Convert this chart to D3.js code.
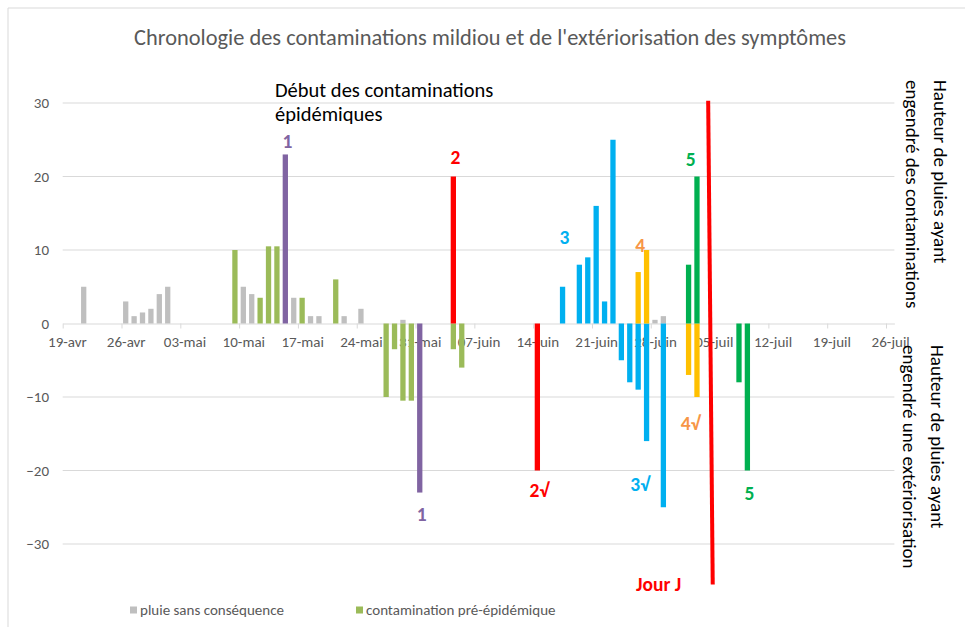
<!DOCTYPE html>
<meta charset="utf-8">
<style>
body { margin: 0; background: #fff; }
svg text { font-family: Carlito, Lato, sans-serif; }
.axis text { fill: #595959; font-size: 15px; }
.axis line, .axis path { stroke: #d9d9d9; }
.grid line { stroke: #d9d9d9; }
</style>
<svg width="965" height="627"></svg>
<script src="https://d3js.org/d3.v7.min.js"></script>
<script>

// dates de l'axe (une graduation par semaine)
var tickDates = ["2021-04-19", "2021-04-26", "2021-05-03", "2021-05-10", "2021-05-17", "2021-05-24", "2021-05-31",
  "2021-06-07", "2021-06-14", "2021-06-21", "2021-06-28", "2021-07-05", "2021-07-12", "2021-07-19", "2021-07-26"];
var tickLabels = ["19-avr", "26-avr", "03-mai", "10-mai", "17-mai", "24-mai", "31-mai",
  "07-juin", "14-juin", "21-juin", "28-juin", "05-juil", "12-juil", "19-juil", "26-juil"];
var yTicks = [-30, -20, -10, 0, 10, 20, 30];

// hauteur de pluie (mm), positif = contamination, négatif = extériorisation
var pluieSansConsequence = [["2021-04-21", 5], ["2021-04-26", 3], ["2021-04-27", 1], ["2021-04-28", 1.5],
  ["2021-04-29", 2], ["2021-04-30", 4], ["2021-05-01", 5], ["2021-05-10", 5], ["2021-05-11", 4],
  ["2021-05-16", 3.5], ["2021-05-18", 1], ["2021-05-19", 1], ["2021-05-22", 1], ["2021-05-24", 2],
  ["2021-05-29", 0.5], ["2021-06-28", 0.5], ["2021-06-29", 1]];
var preEpidemique = [["2021-05-09", 10], ["2021-05-12", 3.5], ["2021-05-13", 10.5], ["2021-05-14", 10.5],
  ["2021-05-17", 3.5], ["2021-05-21", 6], ["2021-05-27", -10], ["2021-05-28", -3.5], ["2021-05-29", -10.5],
  ["2021-05-30", -10.5], ["2021-06-04", -3.5], ["2021-06-05", -6]];
var contamination1 = [["2021-05-15", 23], ["2021-05-31", -23]];
var contamination2 = [["2021-06-04", 20], ["2021-06-14", -20]];
var contamination3 = [["2021-06-17", 5], ["2021-06-19", 8], ["2021-06-20", 9], ["2021-06-21", 16],
  ["2021-06-22", 3], ["2021-06-23", 25], ["2021-06-24", -5], ["2021-06-25", -8], ["2021-06-26", -9],
  ["2021-06-27", -16], ["2021-06-29", -25]];
var contamination4 = [["2021-06-26", 7], ["2021-06-27", 10], ["2021-07-02", -7], ["2021-07-03", -10]];
var contamination5 = [["2021-07-02", 8], ["2021-07-03", 20], ["2021-07-08", -8], ["2021-07-09", -20]];

var seriesNames = ["pluie sans conséquence", "contamination pré-épidémique", "contamination 1",
  "contamination 2", "contamination 3", "contamination 4", "contamination 5"];
var seriesValues = [pluieSansConsequence, preEpidemique, contamination1, contamination2,
  contamination3, contamination4, contamination5];

// étiquettes : [date, valeur, texte, série]
var labels = [["2021-05-15", 24.8, "1", 2], ["2021-05-31", -25.9, "1", 2],
  ["2021-06-04", 22.6, "2", 3], ["2021-06-14", -22.7, "2\u221a", 3],
  ["2021-06-17", 11.7, "3", 4], ["2021-06-26", -21.9, "3\u221a", 4],
  ["2021-06-26", 10.6, "4", 5], ["2021-07-02", -13.5, "4\u221a", 5],
  ["2021-07-02", 22.4, "5", 6], ["2021-07-09", -23.1, "5", 6]];
var jourJ = [["2021-07-04T20:00", 30.3], ["2021-07-05T09:00", -35.5]];

var svg = d3.select("svg");
var parse = d3.utcParse("%Y-%m-%d");
var parseH = d3.utcParse("%Y-%m-%dT%H:%M");

var color = d3.scaleOrdinal()
    .domain(seriesNames)
    .range(["#bfbfbf", "#9bbb59", "#8064a2", "#ff0000", "#00b0f0", "#ffc000", "#00b050"]);
var labelColor = ["#bfbfbf", "#9bbb59", "#8064a2", "#ff0000", "#00b0f0", "#f79646", "#00b050"];

var x0 = parse("2021-04-19"), x1 = parse("2021-07-27");
var xt = d3.scaleUtc().domain([x0, x1]).range([62.7, 894.4]);
var days = d3.utcDay.range(x0, x1).map(d3.utcFormat("%Y-%m-%d"));
var x = d3.scaleBand().domain(days).range([62.7, 894.4]).paddingInner(0.37).paddingOuter(0.185);
var y = d3.scaleLinear().domain([-30, 30]).range([544, 103]);

// cadre
svg.append("path").attr("d", "M8,627V8H965").attr("fill", "none").attr("stroke", "#d9d9d9");

svg.append("text")
    .attr("x", 490).attr("y", 37).attr("dy", "0.35em")
    .attr("text-anchor", "middle")
    .attr("fill", "#595959").style("font-size", "22.4px")
    .text("Chronologie des contaminations mildiou et de l'extériorisation des symptômes");

svg.append("g").attr("class", "grid")
  .selectAll("line").data(yTicks.filter(function(d) { return d !== 0; }))
  .enter().append("line")
    .attr("x1", 62.7).attr("x2", 894.4)
    .attr("y1", function(d) { return y(d); }).attr("y2", function(d) { return y(d); });

var yAxis = svg.append("g").attr("class", "axis")
    .attr("transform", "translate(49,0)")
    .call(d3.axisLeft(y).tickValues(yTicks).tickSize(0).tickPadding(0));
yAxis.select(".domain").remove();

var xAxis = svg.append("g").attr("class", "axis")
    .attr("transform", "translate(0," + y(0) + ")")
    .call(d3.axisBottom(xt).tickValues(tickDates.map(parse))
      .tickFormat(function(d, i) { return tickLabels[i]; })
      .tickSize(5).tickSizeOuter(0).tickPadding(8));
xAxis.selectAll("text").attr("dx", x.step() / 2);

seriesValues.forEach(function(vals, i) {
  svg.append("g").selectAll("rect").data(vals)
    .enter().append("rect")
      .attr("x", function(d) { return x(d[0]); })
      .attr("width", x.bandwidth())
      .attr("y", function(d) { return y(Math.max(0, d[1])); })
      .attr("height", function(d) { return Math.abs(y(d[1]) - y(0)); })
      .attr("fill", color(seriesNames[i]));
});

svg.append("line")
    .attr("x1", xt(parseH(jourJ[0][0]))).attr("y1", y(jourJ[0][1]))
    .attr("x2", xt(parseH(jourJ[1][0]))).attr("y2", y(jourJ[1][1]))
    .attr("stroke", "#ff0000").attr("stroke-width", 4);

svg.append("g").selectAll("text").data(labels)
  .enter().append("text")
    .attr("x", function(d) { return x(d[0]) + x.bandwidth() / 2 + 2; })
    .attr("y", function(d) { return y(d[1]); })
    .attr("dy", "0.35em")
    .attr("text-anchor", "middle")
    .attr("fill", function(d) { return labelColor[d[3]]; })
    .style("font-size", "19.5px").style("font-weight", "bold")
    .text(function(d) { return d[2]; });

svg.append("text")
    .attr("x", x("2021-06-29") - 2).attr("y", y(-35.4)).attr("dy", "0.35em")
    .attr("text-anchor", "middle").attr("fill", "#ff0000")
    .style("font-size", "19.5px").style("font-weight", "bold")
    .text("Jour J");

var debut = svg.append("text").attr("x", 275).attr("y", 90).attr("fill", "#000").style("font-size", "20.5px");
debut.append("tspan").attr("x", 275).attr("dy", "0.35em").text("Début des contaminations");
debut.append("tspan").attr("x", 275).attr("dy", 24).text("épidémiques");

// titres verticaux à droite, lus de haut en bas
function sideTitle(cx, top, l1, l2) {
  var t = svg.append("text")
      .attr("transform", "translate(" + cx + "," + top + ") rotate(90)")
      .attr("text-anchor", "start").attr("fill", "#000").style("font-size", "19px");
  t.append("tspan").attr("x", 0).attr("y", -14).attr("dy", "0.35em").text(l1);
  t.append("tspan").attr("x", 0).attr("y", 14).attr("dy", "0.35em").text(l2);
}
sideTitle(927, 80, "Hauteur de pluies ayant", "engendré des contaminations");
sideTitle(924, 345, "Hauteur de pluies ayant", "engendré une extériorisation");

var legend = svg.append("g").selectAll("g").data(seriesNames.slice(0, 2))
  .enter().append("g")
    .attr("transform", function(d, i) { return "translate(" + [130, 356][i] + ",610)"; });
legend.append("rect").attr("y", -3.5).attr("width", 7).attr("height", 7).attr("fill", color);
legend.append("text").attr("x", 10).attr("dy", "0.35em")
    .attr("fill", "#595959").style("font-size", "15px")
    .text(function(d) { return d; });

</script>
